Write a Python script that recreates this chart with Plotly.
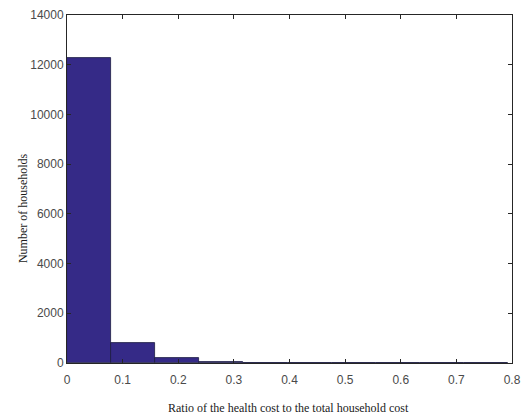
import plotly.graph_objects as go

bin_width = 0.0793
bin_centers = [bin_width * (i + 0.5) for i in range(10)]
counts = [12280, 800, 215, 55, 0, 0, 0, 0, 0, 0]
x_ticks = [0, 0.1, 0.2, 0.3, 0.4, 0.5, 0.6, 0.7, 0.8]
x_tick_labels = ["0", "0.1", "0.2", "0.3", "0.4", "0.5", "0.6", "0.7", "0.8"]
y_ticks = [0, 2000, 4000, 6000, 8000, 10000, 12000, 14000]
y_tick_labels = ["0", "2000", "4000", "6000", "8000", "10000", "12000", "14000"]
x_title = "Ratio of the health cost to the total household cost"
y_title = "Number of households"

fig = go.Figure()
fig.add_trace(go.Bar(
    x=bin_centers, y=counts, width=[bin_width] * len(counts),
    marker=dict(color="#352A87", line=dict(color="#1a1a40", width=0.8)),
))

axis_common = dict(
    showgrid=False, zeroline=False, showline=True, mirror="ticks",
    linecolor="#262626", linewidth=1, ticks="inside", ticklen=4,
    tickcolor="#262626", automargin=False,
    tickfont=dict(family="Liberation Sans, Arial", size=12, color="#4a4a4a"),
)
fig.update_xaxes(range=[0, 0.8], tickvals=x_ticks, ticktext=x_tick_labels,
                 ticklabelstandoff=6, **axis_common)
fig.update_yaxes(range=[0, 14000], tickvals=y_ticks, ticktext=y_tick_labels, **axis_common)

title_font = dict(family="Liberation Serif, Times New Roman", size=12, color="#1a1a1a")
fig.add_annotation(text=x_title, xref="paper", yref="paper", x=0.497, y=-0.129,
                   xanchor="center", yanchor="middle", showarrow=False, font=title_font)
fig.add_annotation(text=y_title, xref="paper", yref="paper", x=-0.099, y=0.445,
                   xanchor="center", yanchor="middle", textangle=-90, showarrow=False,
                   font=title_font)

fig.update_layout(
    width=523, height=418,
    margin=dict(l=67, r=11, t=15, b=55),
    plot_bgcolor="white", paper_bgcolor="white",
    showlegend=False, bargap=0,
)
fig.write_html("out.html", config={"displayModeBar": False},
               post_script="document.body.style.margin='0';")
